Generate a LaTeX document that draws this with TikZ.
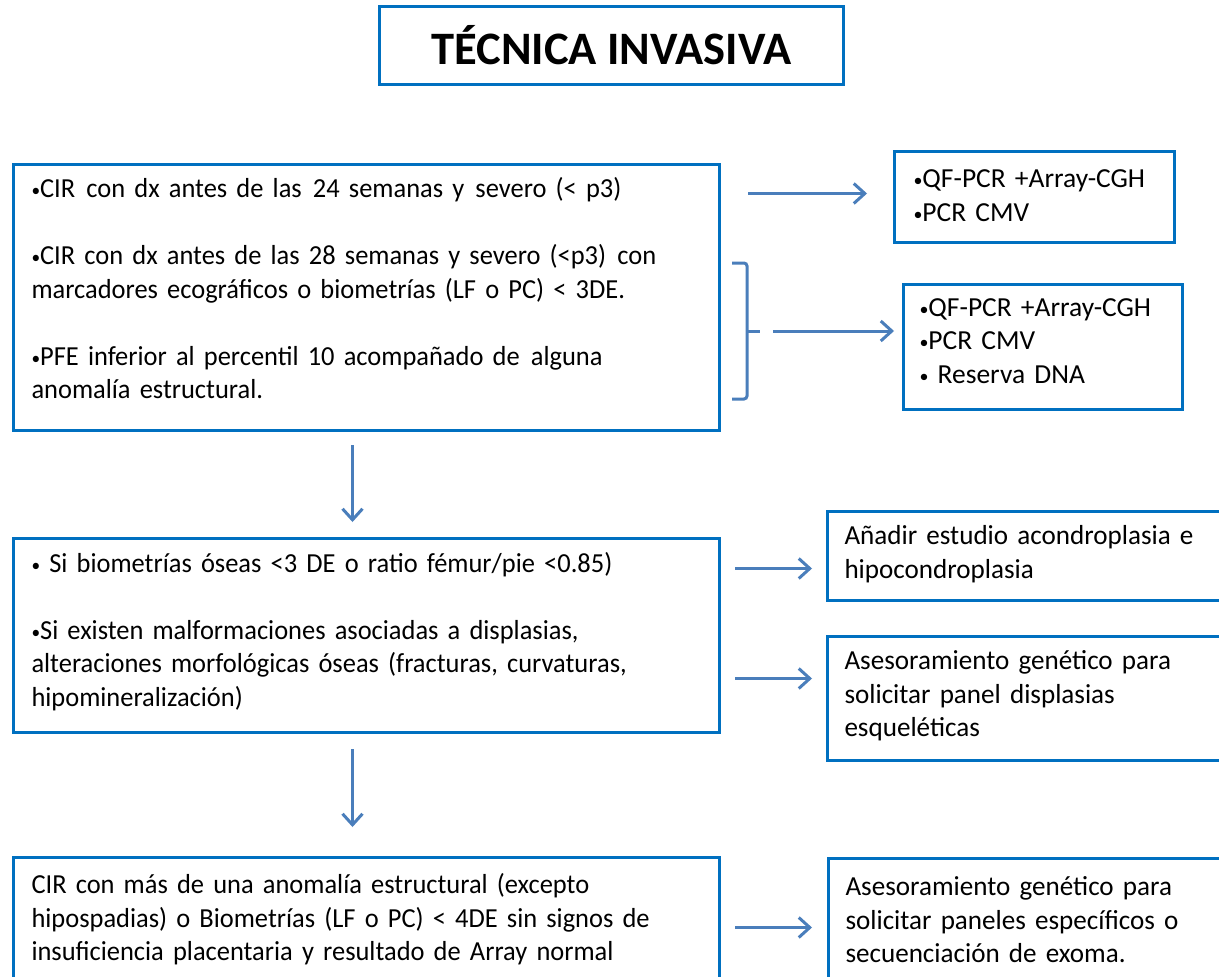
\documentclass[tikz,border=0pt]{standalone}
\usepackage{fontspec}
\setmainfont{Carlito}
\newfontfamily\leftf{Carlito}[FakeStretch=0.962]
\newfontfamily\rightf{Carlito}[FakeStretch=0.985]
\usetikzlibrary{arrows.meta}
\definecolor{boxblue}{HTML}{0070C0}
\definecolor{arrblue}{HTML}{4A7EBB}
\newcommand\bul{\raisebox{1pt}{\fontsize{18}{18}\selectfont•}}
\newcommand\dsp{\ \kern2pt}
\begin{document}
\begin{tikzpicture}[x=1pt,y=-1pt,
  box/.style={draw=boxblue, line width=3pt, rectangle, anchor=north west, align=left,
    inner ysep=0pt, font=\fontsize{27.5}{33.5}\selectfont, text=black},
  lbox/.style={box, inner xsep=18pt, text width=670pt, minimum width=706pt,
    font=\leftf\fontsize{27.5}{33.5}\selectfont},
  rbox/.style={box, inner xsep=17pt, text width=366pt, minimum width=400pt,
    font=\rightf\fontsize{27.5}{33.5}\selectfont},
  arr/.style={draw=arrblue, line width=3pt, -{Straight Barb[length=11pt,width=20pt]}},
  bracestyle/.style={draw=arrblue, line width=3pt, rounded corners=3pt}
]
\clip (0,0) rectangle (1219,977);
\fill[white] (0,0) rectangle (1219,977);

\node[box, align=center, minimum width=464pt, minimum height=78pt,
  font=\fontsize{46.5}{52}\selectfont\bfseries] (title) at (378,5) {TÉCNICA INVASIVA};

\node[lbox, minimum height=266pt] (b1) at (12,163)
  {\bul CIR\dsp con dx antes de las\dsp 24 semanas y\dsp severo (< p3)\\[33.5pt]
   \bul CIR con dx antes de las 28 semanas y severo (<p3)\dsp con\\
   marcadores ecográficos o biometrías (LF o PC) < 3DE.\\[33.5pt]
   \bul PFE inferior al percentil 10 acompañado de\dsp alguna\\
   anomalía estructural.\par\vspace*{18pt}};

\node[lbox, minimum height=194pt] (b2) at (12,537)
  {\bul\ Si biometrías óseas <3 DE o ratio fémur/pie <0.85)\\[33.5pt]
   \bul Si existen malformaciones asociadas a displasias,\\
   alteraciones morfológicas óseas (fracturas, curvaturas,\\
   hipomineralización)\par\vspace*{8pt}};

\node[lbox, minimum height=124pt] (b3) at (12,856)
  {CIR con más de una anomalía estructural (excepto\\
   hipospadias) o Biometrías (LF o PC) < 4DE sin signos de\\
   insuficiencia placentaria y resultado de Array normal};

\node[box, inner xsep=19pt, text width=242pt, minimum width=280pt, minimum height=91pt] (q1) at (893,150)
  {\bul QF-PCR +Array-CGH\\
   \bul PCR CMV\par\vspace*{3pt}};

\node[box, inner xsep=16pt, text width=247pt, minimum width=279pt, minimum height=125pt] (q2) at (902,283)
  {\bul QF-PCR +Array-CGH\\
   \bul PCR CMV\\
   \bul\ Reserva DNA\par\vspace*{12pt}};

\node[rbox, minimum height=89pt] (a1) at (826,510)
  {Añadir estudio acondroplasia e\\
   hipocondroplasia\par\vspace*{4pt}};

\node[rbox, minimum height=124pt] (a2) at (826,635)
  {Asesoramiento genético para\\
   solicitar panel displasias\\
   esqueléticas\par\vspace*{5pt}};

\node[rbox, minimum height=123pt] (a3) at (827,857)
  {Asesoramiento genético para\\
   solicitar paneles específicos o\\
   secuenciación de exoma.};

% brace
\draw[bracestyle] (732,263) -- (747,263) -- (747,399) -- (732,399);
\draw[bracestyle] (747,331) -- (760,331);
\coordinate (brace) at (760,331);

% connectors
\draw[arr, shorten <=27pt, shorten >=26pt] ([yshift=3.5pt]q1.west -| b1.east) -- ([yshift=3.5pt]q1.west);
\draw[arr, shorten <=13pt, shorten >=8pt] (brace) -- (brace -| q2.west);
\draw[arr, shorten <=13pt, shorten >=15pt] ([xshift=-14pt]b1.south) -- ([xshift=-14pt]b2.north);
\draw[arr, shorten <=15pt, shorten >=29pt] ([xshift=-14pt]b2.south) -- ([xshift=-14pt]b3.north);
\draw[arr, shorten <=14pt, shorten >=14pt] ([yshift=-12.5pt]a1.west -| b2.east) -- ([yshift=-12.5pt]a1.west);
\draw[arr, shorten <=14pt, shorten >=14pt] ([yshift=20pt]a2.west -| b2.east) -- ([yshift=20pt]a2.west);
\draw[arr, shorten <=14pt, shorten >=15pt] ([yshift=-7.5pt]a3.west -| b3.east) -- ([yshift=-7.5pt]a3.west);
\end{tikzpicture}
\end{document}
